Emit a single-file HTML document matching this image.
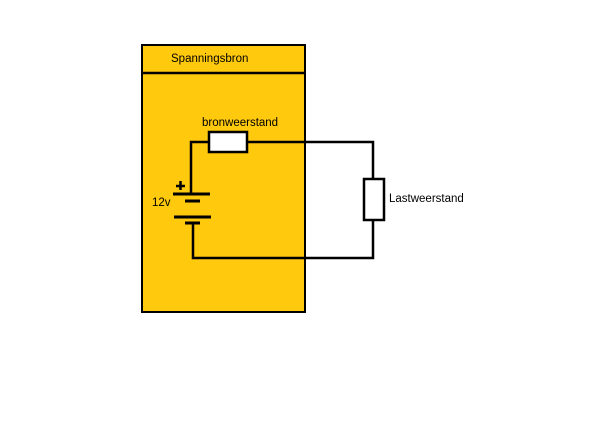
<!DOCTYPE html>
<html><head><style>
body{margin:0;background:#fff;}
svg{display:block}
text{font-family:"Liberation Sans",sans-serif;fill:#000}
</style></head><body>
<svg width="600" height="425" viewBox="0 0 600 425" xmlns="http://www.w3.org/2000/svg">
<rect x="142" y="45" width="163" height="267" fill="#FFC90E" stroke="#000" stroke-width="2"/>
<line x1="142" y1="73" x2="305" y2="73" stroke="#000" stroke-width="2.5"/>
<text x="171" y="62" font-size="11.5">Spanningsbron</text>
<text x="202" y="126" font-size="11.5">bronweerstand</text>
<g stroke="#000" stroke-width="2.5" fill="none">
<polyline points="209,142 191,142 191,194"/>
<polyline points="247,142 373,142 373,179"/>
<polyline points="373,220 373,258 193,258 193,223"/>
</g>
<rect x="209" y="132" width="38" height="20" fill="#fff" stroke="#000" stroke-width="2.5"/>
<rect x="364" y="179" width="20" height="41" fill="#fff" stroke="#000" stroke-width="2.5"/>
<g stroke="#000" stroke-width="3">
<line x1="173" y1="194" x2="210" y2="194"/>
<line x1="185" y1="201" x2="200" y2="201"/>
<line x1="174" y1="217" x2="211" y2="217"/>
<line x1="185" y1="223" x2="200" y2="223"/>
<line x1="176" y1="186" x2="185" y2="186" stroke-width="2.5"/>
<line x1="180.5" y1="181" x2="180.5" y2="190" stroke-width="2.5"/>
</g>
<text x="152" y="206" font-size="11.5">12v</text>
<text x="389" y="202" font-size="11.5">Lastweerstand</text>
</svg>
</body></html>
